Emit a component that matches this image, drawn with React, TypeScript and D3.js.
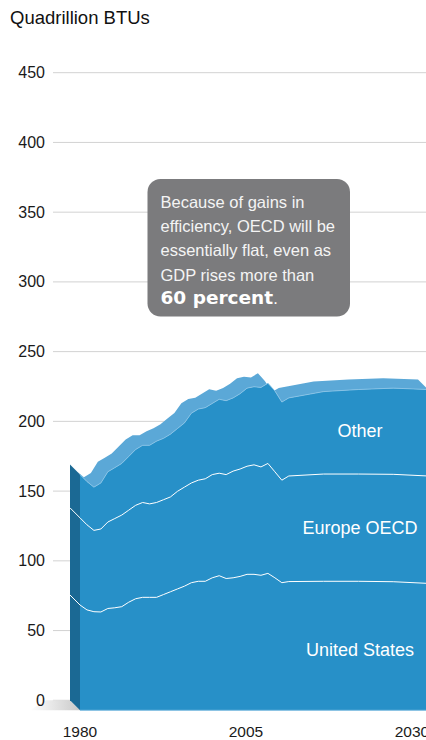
import { useEffect } from "react";
import * as d3 from "d3";

const years = [
  1980, 1981, 1982, 1983, 1984, 1985, 1986, 1987, 1988, 1989, 1990, 1991,
  1992, 1993, 1994, 1995, 1996, 1997, 1998, 1999, 2000, 2001, 2002, 2003,
  2004, 2005, 2006, 2007, 2008, 2009, 2010, 2015, 2020, 2025, 2030,
];
const unitedStates = [
  75.5, 72, 70.7, 70.5, 73, 73.5, 74.3, 77.5, 80, 81, 81, 81, 83, 85, 87, 89,
  91.5, 92.5, 92.5, 95, 96.5, 94.5, 95, 96, 97.5, 97.5, 96.8, 98.2, 95, 91.5,
  92.3, 92.5, 92.5, 92.2, 91,
];
const europeOECD = [
  62.5, 61, 58.3, 59.5, 62, 64, 65.7, 66, 67, 68, 67, 68, 68, 68, 70, 71, 71.5,
  72.5, 73.5, 74, 73.5, 74.5, 76.5, 77, 77.5, 78.5, 77.7, 78.8, 76, 73.5, 75.7,
  76.9, 76.9, 77, 77,
];
const other = [
  31, 31, 31, 33, 36, 36.5, 37, 38.5, 40, 41, 42, 44, 44, 45, 45, 46, 50, 51,
  51, 51, 53, 53, 52.5, 54, 56, 56, 57, 57.5, 58, 56, 56, 59.1, 60.6, 61.8, 62,
];
const seriesNames = ["United States", "Europe OECD", "Other"];
const yTicks = [0, 50, 100, 150, 200, 250, 300, 350, 400, 450];
const xLabels = ["1980", "2005", "2030"];
const calloutLines = [
  "Because of gains in",
  "efficiency, OECD will be",
  "essentially flat, even as",
  "GDP rises more than",
];

const W = 426;
const H = 740;
const DX = 10; // depth offset of the front face
const DY = 10;
const FONT = "'Liberation Sans', Arial, Helvetica, sans-serif";

type Row = { year: number; us: number; europe: number; other: number };

export default function App() {
  useEffect(() => {
    document.body.style.margin = "0";
  }, []);

  const rows: Row[] = years.map((year, i) => ({
    year,
    us: unitedStates[i],
    europe: europeOECD[i],
    other: other[i],
  }));

  const stacked = d3.stack<Row>().keys(["us", "europe", "other"])(rows);
  const top = stacked[2];

  const x = d3.scaleLinear().domain([1980, 2030]).range([80, 428]);
  const y = d3.scaleLinear().domain([0, 450]).range([700.3, 72.7]);
  const xLab = d3.scalePoint<string>().domain(xLabels).range([80, 412]);

  // top face: back edge left->right, then front edge right->left
  const backPts = top.map((d) => [x(d.data.year) - DX, y(d[1])] as [number, number]);
  const frontPts = top.map((d) => [x(d.data.year), y(d[1]) + DY] as [number, number]);
  const topFace = d3.line()([...backPts, ...frontPts.slice().reverse()]) + "Z";

  const frontArea = d3
    .area<d3.SeriesPoint<Row>>()
    .x((d) => x(d.data.year))
    .y0(y(0) + DY)
    .y1((d) => y(d[1]) + DY);

  const frontLine = d3
    .line<d3.SeriesPoint<Row>>()
    .x((d) => x(d.data.year))
    .y((d) => y(d[1]) + DY);

  const x0 = x(1980);
  const first = top[0][1];
  const sidePoly = [
    [x0 - DX, y(first)],
    [x0, y(first) + DY],
    [x0, y(0) + DY],
    [x0 - DX, y(0)],
  ]
    .map((p) => p.join(","))
    .join(" ");

  const floorPoly = [
    [x0 - DX - 24, y(0)],
    [x0 - DX, y(0)],
    [x0, y(0) + DY],
    [x0 - DX - 40, y(0) + DY],
  ]
    .map((p) => p.join(","))
    .join(" ");

  const labelPos = [
    { name: seriesNames[0], y: 655.5 },
    { name: seriesNames[1], y: 534 },
    { name: seriesNames[2], y: 436.5 },
  ];

  return (
    <svg
      width={W}
      height={H}
      viewBox={`0 0 ${W} ${H}`}
      style={{ display: "block", fontFamily: FONT }}
    >
      <defs>
        <linearGradient id="floor" x1="0" x2="1" y1="0" y2="0">
          <stop offset="0" stopColor="#ffffff" />
          <stop offset="1" stopColor="#c9c9c9" />
        </linearGradient>
      </defs>

      <text x={10} y={24.3} fontSize={18.5} fill="#111">
        Quadrillion BTUs
      </text>

      {yTicks.map((t) => (
        <line key={t} x1={53} x2={W} y1={y(t)} y2={y(t)} stroke="#d2d2d2" strokeWidth={1} />
      ))}

      <polygon points={floorPoly} fill="url(#floor)" />

      {yTicks.map((t) => (
        <text
          key={t}
          x={45}
          y={y(t)}
          textAnchor="end"
          dominantBaseline="central"
          fontSize={16}
          fill="#1a1a1a"
        >
          {t}
        </text>
      ))}

      <path d={topFace} fill="#5ba8d7" />

      {/* left side face */}
      <polygon points={sidePoly} fill="#1b6994" />
      {stacked.slice(0, 2).map((s, i) => (
        <line
          key={i}
          x1={x0 - DX}
          y1={y(s[0][1])}
          x2={x0}
          y2={y(s[0][1]) + DY}
          stroke="#fff"
          strokeWidth={1}
        />
      ))}

      {/* front face */}
      <path d={frontArea(top) ?? ""} fill="#2790c8" />
      <path d={frontLine(top) ?? ""} fill="none" stroke="#8fc6e8" strokeWidth={0.8} />
      {stacked.slice(0, 2).map((s, i) => (
        <path
          key={i}
          d={frontLine(s) ?? ""}
          fill="none"
          stroke="#fff"
          strokeWidth={1}
        />
      ))}
      <line
        x1={x0}
        x2={x(2030)}
        y1={y(0) + DY}
        y2={y(0) + DY}
        stroke="#7fbce2"
        strokeWidth={1}
      />

      {labelPos.map((l) => (
        <text
          key={l.name}
          x={360}
          y={l.y}
          textAnchor="middle"
          fontSize={18}
          fill="#fff"
        >
          {l.name}
        </text>
      ))}

      {xLabels.map((l) => (
        <text
          key={l}
          x={xLab(l)}
          y={736.5}
          textAnchor="middle"
          fontSize={15.5}
          fill="#1a1a1a"
        >
          {l}
        </text>
      ))}

      {/* callout */}
      <rect x={147.5} y={179} width={202.5} height={137.5} rx={13} fill="#7b7b7d" />
      {calloutLines.map((line, i) => (
        <text key={i} x={160.5} y={207.5 + i * 24.4} fontSize={16.5} fill="#f4f4f4">
          {line}
        </text>
      ))}
      <text x={160.5} y={304} fill="#fff">
        <tspan
          fontFamily="'DejaVu Sans', sans-serif"
          fontWeight="bold"
          fontSize={18.5}
        >
          60 percent
        </tspan>
        <tspan fontSize={16.5}>.</tspan>
      </text>
    </svg>
  );
}
